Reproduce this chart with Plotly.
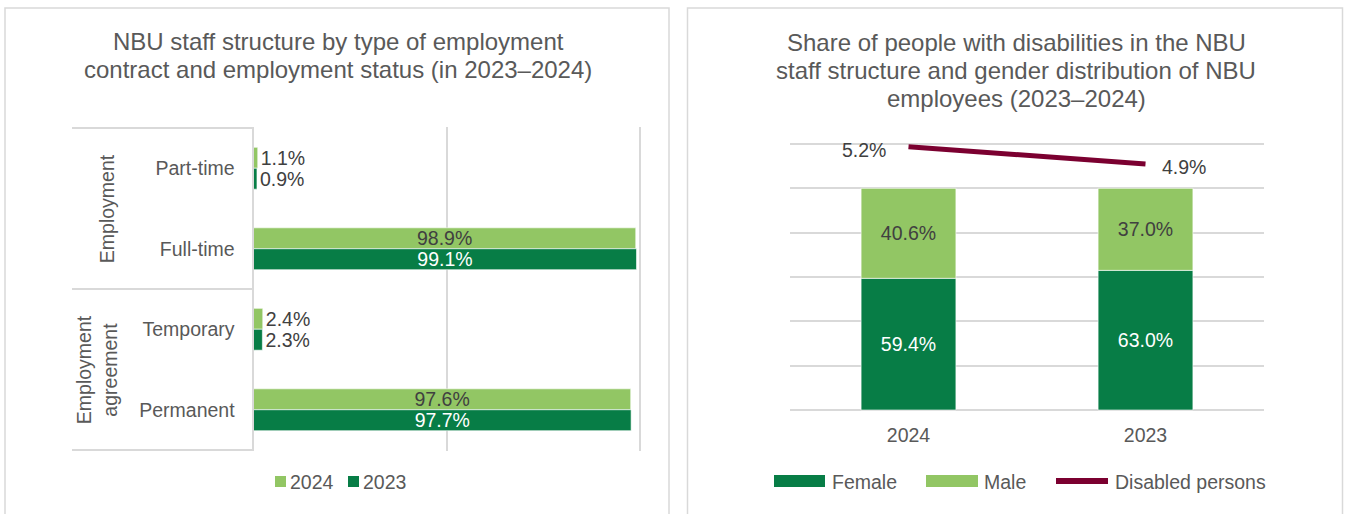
import plotly.graph_objects as go

# ---------------- data ----------------
categories = ["Part-time", "Full-time", "Temporary", "Permanent"]
group_labels = ["Employment", "Employment<br>agreement"]
group_centers = [0.5, 2.5]          # category-index centres of each group
group_breaks = [-0.5, 1.5, 3.5]     # category-index boundaries of the groups
share_2024 = [1.1, 98.9, 2.4, 97.6]
share_2023 = [0.9, 99.1, 2.3, 97.7]

years = ["2024", "2023"]
female = [59.4, 63.0]
male = [40.6, 37.0]
disabled = [5.2, 4.9]

left_title = ["NBU staff structure by type of employment",
              "contract and employment status (in 2023–2024)"]
right_title = ["Share of people with disabilities in the NBU",
               "staff structure and gender distribution of NBU",
               "employees (2023–2024)"]

# ---------------- style ----------------
W, H = 1347, 514
def px(x):
    return x / W
def py(y):
    return 1 - y / H

LIGHT = "#92c664"
DARK = "#077d46"
MAROON = "#7b0030"
GRID = "#d9d9d9"
TXT = "#595959"
LBL = "#404040"
FONT = "Liberation Sans, Arial, sans-serif"
FS = 19.5
TFS = 24

def fmt(vals):
    return [f"{v:.1f}%" for v in vals]

def pos(vals):
    return ["inside" if v > 50 else "outside" for v in vals]

fig = go.Figure()

# ---------------- left chart ----------------
fig.add_trace(go.Bar(
    y=categories, x=share_2024, orientation="h", name="2024",
    marker=dict(color=LIGHT, line=dict(color="white", width=0.6)),
    text=fmt(share_2024), textposition=pos(share_2024),
    insidetextanchor="middle", constraintext="none", cliponaxis=False,
    insidetextfont=dict(color=LBL, size=FS, family=FONT),
    outsidetextfont=dict(color=LBL, size=FS, family=FONT),
    xaxis="x", yaxis="y", showlegend=False, hoverinfo="skip"))
fig.add_trace(go.Bar(
    y=categories, x=share_2023, orientation="h", name="2023",
    marker=dict(color=DARK, line=dict(color="white", width=0.6)),
    text=fmt(share_2023), textposition=pos(share_2023),
    insidetextanchor="middle", constraintext="none", cliponaxis=False,
    insidetextfont=dict(color="white", size=FS, family=FONT),
    outsidetextfont=dict(color=LBL, size=FS, family=FONT),
    xaxis="x", yaxis="y", showlegend=False, hoverinfo="skip"))

# ---------------- right chart ----------------
fig.add_trace(go.Bar(
    x=years, y=female, name="Female", width=0.4, offset=-0.2,
    marker=dict(color=DARK, line=dict(color="white", width=0.6)),
    text=fmt(female), textposition="inside", insidetextanchor="middle",
    constraintext="none",
    insidetextfont=dict(color="white", size=FS, family=FONT),
    xaxis="x2", yaxis="y2", showlegend=False, hoverinfo="skip"))
fig.add_trace(go.Bar(
    x=years, y=male, base=female, name="Male", width=0.4, offset=-0.2,
    marker=dict(color=LIGHT, line=dict(color="white", width=0.6)),
    text=fmt(male), textposition="inside", insidetextanchor="middle",
    constraintext="none",
    insidetextfont=dict(color=LBL, size=FS, family=FONT),
    xaxis="x2", yaxis="y2", showlegend=False, hoverinfo="skip"))
fig.add_trace(go.Scatter(
    x=years, y=disabled, mode="lines", name="Disabled persons",
    line=dict(color=MAROON, width=5),
    xaxis="x2", yaxis="y3", showlegend=False, hoverinfo="skip"))

annotations = []
# line labels (placed at the data points through the axes)
for i, (yr, v) in enumerate(zip(years, disabled)):
    annotations.append(dict(
        x=i, y=v, xref="x2", yref="y3", text=f"{v:.1f}%", showarrow=False,
        xanchor="right" if i == 0 else "left",
        xshift=-21 if i == 0 else 14, yshift=-3,
        font=dict(color=LBL, size=FS, family=FONT)))

# titles (one annotation per line for exact line spacing)
for line, yc in zip(left_title, [41.5, 70]):
    annotations.append(dict(
        x=px(338), y=py(yc), xref="paper", yref="paper", showarrow=False,
        text=line, font=dict(color=TXT, size=TFS, family=FONT),
        xanchor="center", yanchor="middle"))
for line, yc in zip(right_title, [42, 70.5, 99]):
    annotations.append(dict(
        x=px(1016), y=py(yc), xref="paper", yref="paper", showarrow=False,
        text=line, font=dict(color=TXT, size=TFS, family=FONT),
        xanchor="center", yanchor="middle"))

# group labels for left category axis
group_x = [106.7, 96.7]
for lab, c, gx in zip(group_labels, group_centers, group_x):
    annotations.append(dict(
        x=px(gx), y=c, xref="paper", yref="y", text=lab, showarrow=False,
        textangle=-90, xanchor="center", yanchor="middle",
        font=dict(color=TXT, size=FS, family=FONT)))

shapes = []
# panel borders
for x0, x1 in [(5, 669), (687.5, 1342.5)]:
    shapes.append(dict(type="rect", xref="paper", yref="paper",
                       x0=px(x0), x1=px(x1), y0=py(8), y1=py(530),
                       line=dict(color=GRID, width=1.5), layer="below"))
# table lines for the grouped category axis
for b in group_breaks:
    shapes.append(dict(type="line", xref="paper", yref="y",
                       x0=px(72), x1=px(253.5), y0=b, y1=b,
                       line=dict(color=GRID, width=2)))

# custom legends
def legend_rect(x0, x1, y0, y1, color):
    shapes.append(dict(type="rect", xref="paper", yref="paper",
                       x0=px(x0), x1=px(x1), y0=py(y1), y1=py(y0),
                       fillcolor=color, line=dict(width=0)))

def legend_text(x, text):
    annotations.append(dict(x=px(x), y=py(481.5), xref="paper", yref="paper",
                            text=text, showarrow=False, xanchor="left",
                            yanchor="middle",
                            font=dict(color=TXT, size=FS, family=FONT)))

legend_rect(275, 286, 476, 487, LIGHT)
legend_text(288, "2024")
legend_rect(348, 359, 476, 487, DARK)
legend_text(361, "2023")

legend_rect(774, 825, 475, 487, DARK)
legend_text(830, "Female")
legend_rect(926, 978, 475, 487, LIGHT)
legend_text(982, "Male")
shapes.append(dict(type="line", xref="paper", yref="paper",
                   x0=px(1056), x1=px(1108), y0=py(481), y1=py(481),
                   line=dict(color=MAROON, width=6)))
legend_text(1113, "Disabled persons")

# axis geometry: padding beyond the outer grid values so edge gridlines render
LX0, LPPU = 253.5, 3.865        # left chart: pixel of 0 %, pixels per %
XPAD = 0.4
RY0, RPPU = 410.0, 266.0 / 120  # right chart: pixel of 0 %, pixels per %
YPAD = 2.0
# secondary (line) axis: value at bottom/top gridline and pixels per unit
L_BOT, L_TOP = 0.637, 5.247
LPU = 266.0 / (L_TOP - L_BOT)
LPAD = YPAD * RPPU / LPU

fig.update_layout(
    width=W, height=H, margin=dict(l=0, r=0, t=0, b=0, autoexpand=False),
    paper_bgcolor="white", plot_bgcolor="rgba(0,0,0,0)",
    barmode="group", bargap=0.48, bargroupgap=0,
    font=dict(family=FONT, color=TXT, size=FS),
    showlegend=False,
    xaxis=dict(domain=[px(LX0), px(LX0 + (100 + XPAD) * LPPU)],
               range=[0, 100 + XPAD], anchor="y",
               showgrid=True, dtick=50, tick0=0, gridcolor=GRID, gridwidth=2,
               showticklabels=False, zeroline=False, showline=False,
               fixedrange=True, automargin=False),
    yaxis=dict(domain=[py(451), py(127)], anchor="x", type="category",
               categoryorder="array", categoryarray=categories,
               autorange="reversed", showline=True, linecolor=GRID,
               linewidth=2, ticks="", ticklabelstandoff=13,
               tickfont=dict(color=TXT, size=FS, family=FONT),
               showgrid=False, zeroline=False, fixedrange=True,
               automargin=False),
    xaxis2=dict(domain=[px(790), px(1264)], anchor="y2", type="category",
                categoryorder="array", categoryarray=years,
                showline=False, ticks="",
                ticklabelstandoff=int(round(11 - YPAD * RPPU)),
                tickfont=dict(color=TXT, size=FS, family=FONT),
                showgrid=False, zeroline=False, fixedrange=True,
                automargin=False),
    yaxis2=dict(domain=[py(RY0 + YPAD * RPPU), py(RY0 - (120 + YPAD) * RPPU)],
                anchor="x2", range=[-YPAD, 120 + YPAD],
                dtick=20, tick0=0, showgrid=True, gridcolor=GRID, gridwidth=2,
                showticklabels=False, zeroline=False, showline=False,
                fixedrange=True, automargin=False),
    yaxis3=dict(overlaying="y2", anchor="x2",
                range=[L_BOT - LPAD, L_TOP + LPAD],
                visible=False, fixedrange=True, automargin=False),
    annotations=annotations, shapes=shapes,
)

fig.write_html("out.html")
